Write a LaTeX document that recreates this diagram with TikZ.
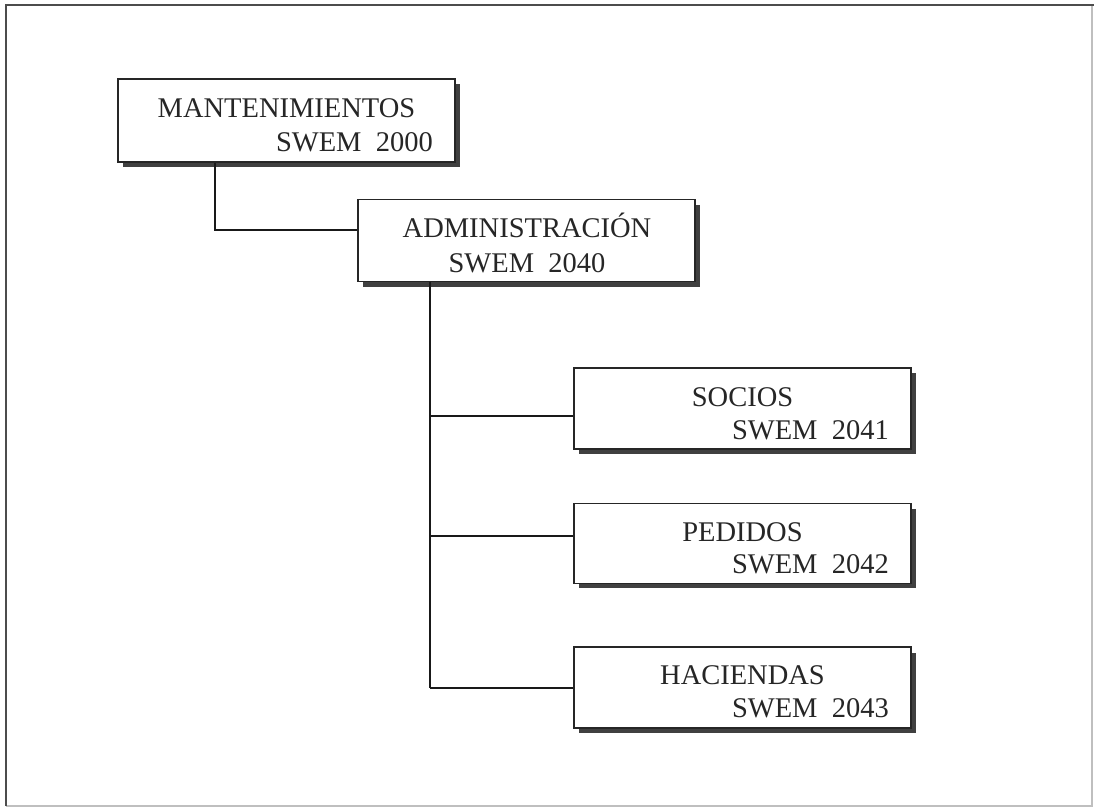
\documentclass[tikz,border=0pt]{standalone}
\usepackage{fontspec}
\setmainfont{Liberation Serif}
\begin{document}
\begin{tikzpicture}[x=1pt,y=-1pt,
  box/.style={draw=black!85,line width=1.8pt,fill=white,rectangle,inner sep=0pt,minimum width=337pt},
  shadowbox/.style={fill=black!75,draw=none},
  txt/.style={inner sep=0pt,text=black!85,font=\fontsize{28.5}{34}\selectfont},
  conn/.style={draw=black!90,line width=1.5pt}]
\useasboundingbox (0,0) rectangle (1094,809);
\fill[white] (0,0) rectangle (1094,809);
% frame
\draw[black!25,line width=1.5pt] (1092,5) -- (1092,806) -- (6,806);
\draw[black!70,line width=2pt] (6,806) -- (6,5) -- (1094,5);
% shadows
\fill[shadowbox] (123,84) rectangle (460,167);
\fill[shadowbox] (363,205) rectangle (700,287);
\fill[shadowbox] (579,373) rectangle (916,454);
\fill[shadowbox] (579,509) rectangle (916,588);
\fill[shadowbox] (579,653) rectangle (916,733);
% boxes
\node[box,minimum height=83pt] (b1) at (286.5,120.5) {};
\node[box,minimum height=82pt] (b2) at (526.5,240.5) {};
\node[box,minimum height=81pt] (b3) at (742.5,408.5) {};
\node[box,minimum height=80pt] (b4) at (742.5,543.5) {};
\node[box,minimum height=81pt] (b5) at (742.5,687.5) {};
% texts
\node[txt,anchor=base] (t1a) at (286.5,117) {MANTENIMIENTOS};
\node[txt,anchor=base east] (t1b) at (433,151) {SWEM\ \ 2000};
\node[txt,anchor=base] (t2a) at (527,237.5) {ADMINISTRACIÓN};
\node[txt,anchor=base] (t2b) at (527,272) {SWEM\ \ 2040};
\node[txt,anchor=base] (t3a) at (742.5,406) {SOCIOS};
\node[txt,anchor=base east] (t3b) at (889,439) {SWEM\ \ 2041};
\node[txt,anchor=base] (t4a) at (742.5,541) {PEDIDOS};
\node[txt,anchor=base east] (t4b) at (889,573) {SWEM\ \ 2042};
\node[txt,anchor=base] (t5a) at (742.5,684) {HACIENDAS};
\node[txt,anchor=base east] (t5b) at (889,717) {SWEM\ \ 2043};
% connectors
\coordinate (j1) at (215,230);
\coordinate (s3) at (430,416);
\coordinate (s4) at (430,536);
\coordinate (s5) at (430,688);
\draw[conn] (b1.south -| j1) -- (j1) -- (b2.west |- j1);
\draw[conn] (b2.south -| s3) -- (s5);
\draw[conn] (s3) -- (b3.west |- s3);
\draw[conn] (s4) -- (b4.west |- s4);
\draw[conn] (s5) -- (b5.west |- s5);
\end{tikzpicture}
\end{document}
